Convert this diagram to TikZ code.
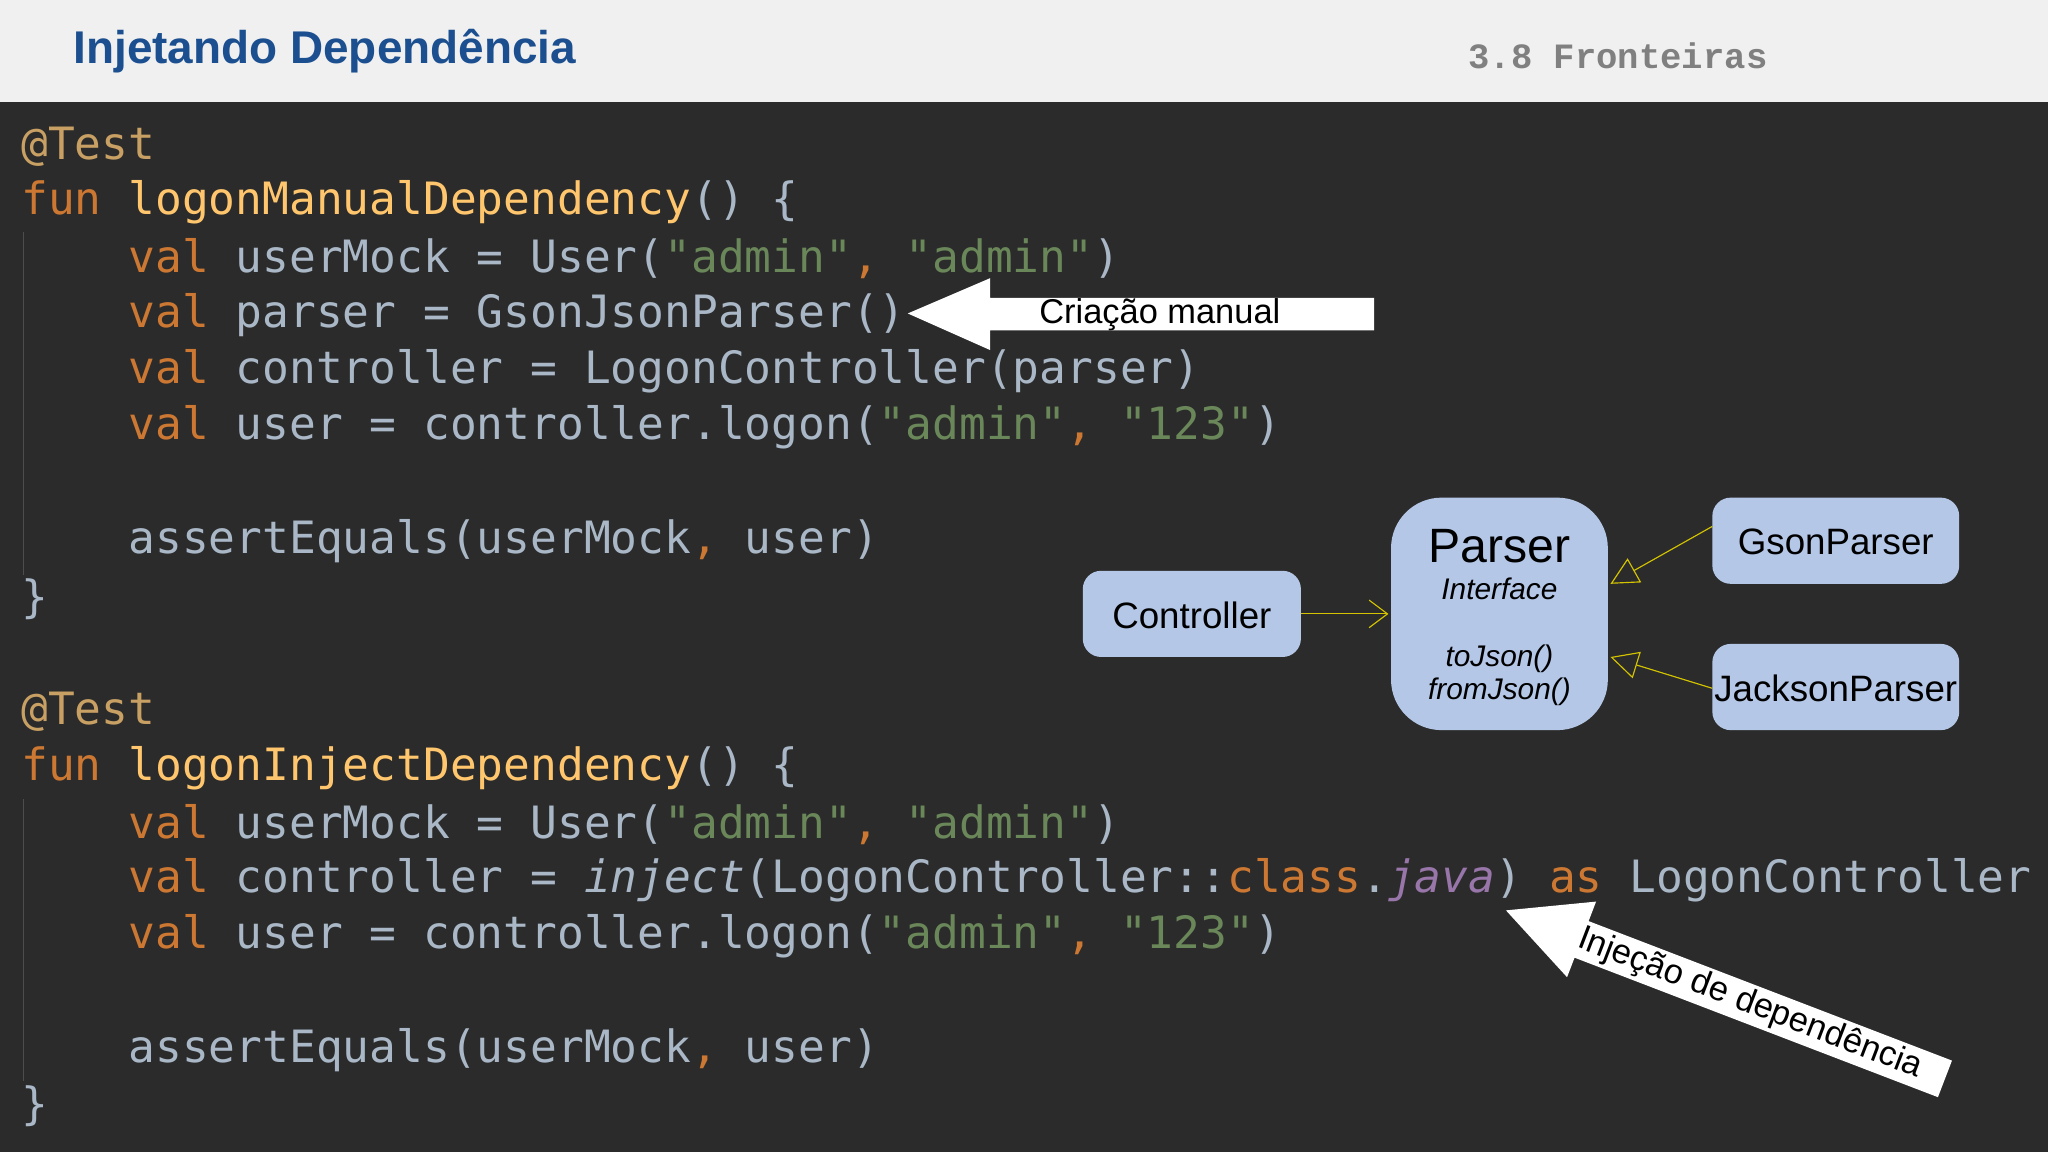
\documentclass[tikz,border=0pt]{standalone}
\usepackage{fontspec}
\setmainfont{Liberation Sans}
\setmonofont{DejaVu Sans Mono}
\newfontfamily\hdmono{Liberation Mono}
\usetikzlibrary{arrows.meta}
\definecolor{bgdark}{HTML}{2B2B2B}
\definecolor{hdr}{HTML}{F0F0F0}
\definecolor{ttl}{HTML}{1B4F8F}
\definecolor{kwc}{HTML}{CC7832}
\definecolor{fnc}{HTML}{FFC66D}
\definecolor{dfc}{HTML}{A9B7C6}
\definecolor{stc}{HTML}{6A8759}
\definecolor{anc}{HTML}{C8A064}
\definecolor{puc}{HTML}{9876AA}
\definecolor{boxc}{HTML}{B4C7E7}
\definecolor{linec}{HTML}{D4C400}
\newcommand{\kw}[1]{\textcolor{kwc}{#1}}
\newcommand{\fnn}[1]{\textcolor{fnc}{#1}}
\newcommand{\st}[1]{\textcolor{stc}{#1}}
\newcommand{\an}[1]{\textcolor{anc}{#1}}
\tikzset{
 code/.style={anchor=west,inner sep=0pt,text=dfc,font=\ttfamily\fontsize{19.4}{22}\selectfont},
 conn/.style={draw=linec,line width=0.5pt},
 lbl/.style={font=\fontsize{15}{18}\selectfont,text=black,inner sep=0pt}
}
\begin{document}
\begin{tikzpicture}[x=0.02cm,y=-0.02cm]
\fill[bgdark] (0,0) rectangle (1568,882);
\fill[hdr] (0,0) rectangle (1568,78);
\node[anchor=west,inner sep=0pt,text=ttl,font=\bfseries\fontsize{20}{24}\selectfont] (title) at (56,39) {Injetando Dependência};
\node[anchor=west,inner sep=0pt,text=gray,font=\hdmono\bfseries\fontsize{15.5}{18}\selectfont] (sec) at (1124,43) {3.8 Fronteiras};
\draw[gray!40!bgdark,line width=0.8pt] (18,178) -- (18,440);
\draw[gray!40!bgdark,line width=0.8pt] (18,612) -- (18,828);
% code block 1
\node[code] (l1) at (16,112) {\an{@Test}};
\node[code] (l2) at (16,155) {\kw{fun} \fnn{logonManualDependency}() \{};
\node[code] (l3) at (98,198) {\kw{val} userMock = User(\st{"admin"}\kw{,} \st{"admin"})};
\node[code] (l4) at (98,241) {\kw{val} parser = GsonJsonParser()};
\node[code] (l5) at (98,284) {\kw{val} controller = LogonController(parser)};
\node[code] (l6) at (98,327) {\kw{val} user = controller.logon(\st{"admin"}\kw{,} \st{"123"})};
\node[code] (l7) at (98,414) {assertEquals(userMock\kw{,} user)};
\node[code] (l8) at (16,459) {\}};
% code block 2
\node[code] (m1) at (16,545) {\an{@Test}};
\node[code] (m2) at (16,588) {\kw{fun} \fnn{logonInjectDependency}() \{};
\node[code] (m3) at (98,631) {\kw{val} userMock = User(\st{"admin"}\kw{,} \st{"admin"})};
\node[code] (m4) at (98,674) {\kw{val} controller = \textit{inject}(LogonController::\kw{class}.\textcolor{puc}{\textit{java}}) \kw{as} LogonController};
\node[code] (m5) at (98,717) {\kw{val} user = controller.logon(\st{"admin"}\kw{,} \st{"123"})};
\node[code] (m6) at (98,804) {assertEquals(userMock\kw{,} user)};
\node[code] (m7) at (16,847) {\}};
% arrow 1
\fill[white] (695,240) -- (758,213) -- (758,228) -- (1052,228) -- (1052,253) -- (758,253) -- (758,268) -- cycle;
\node[lbl] (a1) at (888,241) {Criação manual};
% arrow 2
\begin{scope}[shift={(1153,697)},rotate=-21]
\fill[white] (0,0) -- (62,-31) -- (62,-15) -- (360,-15) -- (360,15) -- (62,15) -- (62,31) -- cycle;
\node[lbl,rotate=-21] (a2) at (200,0) {Injeção de dependência};
\end{scope}
% diagram
\fill[boxc,rounded corners=8pt] (829,437) rectangle (996,503);
\node[lbl,font=\fontsize{16}{19}\selectfont] (ctrl) at (912.5,471) {Controller};
\fill[boxc,rounded corners=22pt] (1065,381) rectangle (1231,559);
\node[lbl,font=\fontsize{21}{24}\selectfont] (pt) at (1148,418) {Parser};
\node[lbl,font=\itshape\fontsize{13}{15}\selectfont] (pi) at (1148,451) {Interface};
\node[lbl,font=\itshape\fontsize{13}{15}\selectfont] (pm1) at (1148,504) {toJson()};
\node[lbl,font=\itshape\fontsize{13}{15}\selectfont] (pm2) at (1148,530) {fromJson()};
\fill[boxc,rounded corners=8pt] (1311,381) rectangle (1500,447);
\node[lbl,font=\fontsize{16}{19}\selectfont] (gs) at (1405.5,415) {GsonParser};
\fill[boxc,rounded corners=8pt] (1311,493) rectangle (1500,559);
\node[lbl,font=\fontsize{16}{19}\selectfont] (js) at (1405.5,527) {JacksonParser};
\coordinate (c1) at (996,470); \coordinate (p1) at (1063,470);
\coordinate (g1) at (1311,403); \coordinate (p2) at (1233,447);
\coordinate (j1) at (1311,527); \coordinate (p3) at (1233,503);
\draw[conn,-{Straight Barb[length=8pt,width=12pt]}] (c1) -- (p1);
\draw[conn,-{Triangle[open,length=12pt,width=12pt]}] (g1) -- (p2);
\draw[conn,-{Triangle[open,length=12pt,width=12pt]}] (j1) -- (p3);
\end{tikzpicture}
\end{document}
